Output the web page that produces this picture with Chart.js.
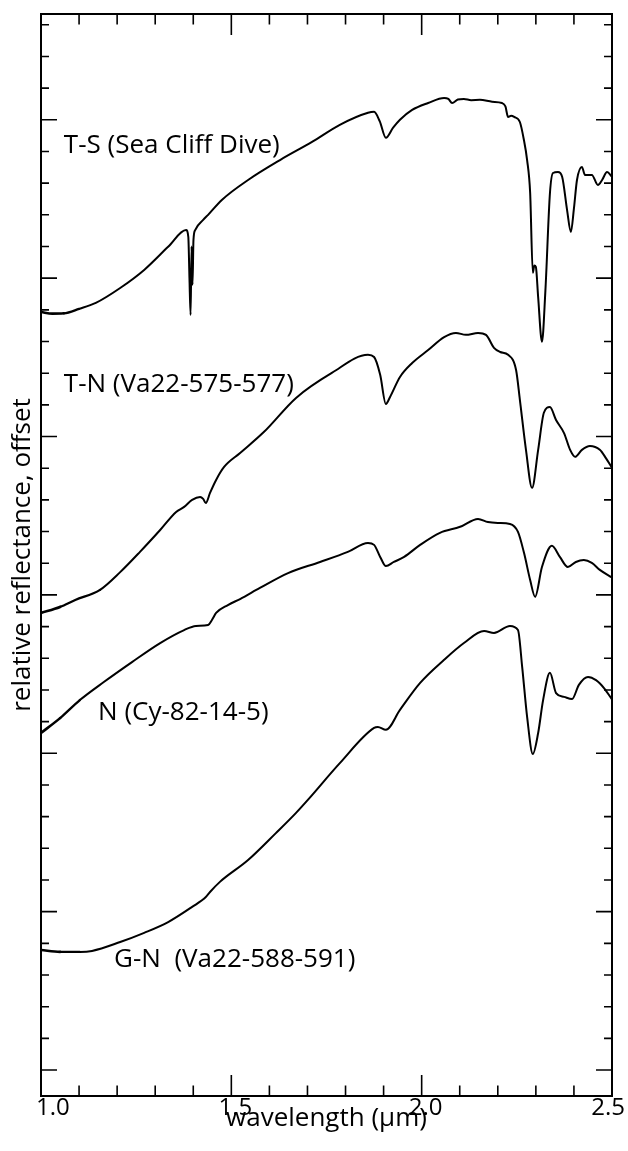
<!DOCTYPE html>
<html>
<head>
<meta charset="utf-8">
<script src="https://cdn.jsdelivr.net/npm/chart.js@4.4.1/dist/chart.umd.min.js"></script>
<style>
html, body { margin: 0; padding: 0; background: #fff; }
#wrap { width: 628px; height: 1151px; }
</style>
</head>
<body>
<div id="wrap"><canvas id="c" width="628" height="1151"></canvas></div>
<script>
// ---- data (wavelength in µm, relative reflectance with offset, in y-tick units) ----
const wlTS = [1.000, 1.030, 1.060, 1.100, 1.144, 1.208, 1.271, 1.334, 1.381, 1.387, 1.390, 1.393, 1.3955, 1.398, 1.4005, 1.405, 1.426, 1.439, 1.475, 1.544, 1.628, 1.712, 1.785, 1.859, 1.875, 1.890, 1.906, 1.925, 1.943, 1.975, 2.017, 2.059, 2.070, 2.080, 2.095, 2.111, 2.130, 2.153, 2.185, 2.211, 2.220, 2.227, 2.235, 2.243, 2.258, 2.268, 2.277, 2.285, 2.292, 2.296, 2.300, 2.306, 2.316, 2.325, 2.337, 2.345, 2.358, 2.369, 2.382, 2.392, 2.400, 2.408, 2.421, 2.429, 2.447, 2.463, 2.474, 2.487, 2.500];
const reflTS = [23.93, 23.88, 23.89, 24.03, 24.22, 24.69, 25.26, 25.99, 26.52, 26.30, 25.00, 23.84, 26.00, 24.79, 26.20, 26.52, 26.84, 27.00, 27.47, 28.10, 28.73, 29.30, 29.84, 30.22, 30.25, 29.95, 29.43, 29.75, 30.00, 30.31, 30.53, 30.69, 30.66, 30.53, 30.64, 30.66, 30.62, 30.63, 30.57, 30.53, 30.42, 30.09, 30.13, 30.09, 29.93, 29.40, 28.73, 27.69, 25.17, 25.40, 25.36, 24.40, 22.99, 24.60, 27.69, 28.32, 28.35, 28.20, 27.15, 26.46, 27.20, 28.10, 28.51, 28.26, 28.26, 27.94, 28.10, 28.35, 28.20];

const wlTN = [1.000, 1.050, 1.090, 1.155, 1.208, 1.260, 1.313, 1.355, 1.376, 1.397, 1.418, 1.426, 1.433, 1.444, 1.460, 1.481, 1.523, 1.586, 1.670, 1.764, 1.859, 1.875, 1.891, 1.906, 1.917, 1.943, 1.975, 2.017, 2.059, 2.090, 2.116, 2.148, 2.169, 2.190, 2.206, 2.227, 2.248, 2.258, 2.274, 2.290, 2.306, 2.321, 2.337, 2.353, 2.374, 2.390, 2.403, 2.421, 2.442, 2.468, 2.484, 2.500];
const reflTN = [14.43, 14.62, 14.84, 15.16, 15.72, 16.36, 17.05, 17.62, 17.78, 18.00, 18.09, 18.03, 17.90, 18.22, 18.63, 19.04, 19.48, 20.15, 21.22, 22.01, 22.58, 22.51, 21.95, 21.03, 21.25, 21.88, 22.32, 22.73, 23.14, 23.27, 23.21, 23.27, 23.21, 22.80, 22.67, 22.58, 22.10, 21.16, 19.58, 18.38, 19.58, 20.75, 20.93, 20.52, 20.11, 19.58, 19.36, 19.58, 19.70, 19.58, 19.32, 19.01];

const wlN = [1.000, 1.050, 1.102, 1.165, 1.239, 1.313, 1.376, 1.407, 1.439, 1.449, 1.460, 1.491, 1.523, 1.575, 1.649, 1.733, 1.806, 1.859, 1.875, 1.891, 1.906, 1.927, 1.954, 1.996, 2.048, 2.101, 2.148, 2.174, 2.201, 2.232, 2.253, 2.269, 2.285, 2.298, 2.316, 2.342, 2.363, 2.384, 2.405, 2.426, 2.447, 2.468, 2.500];
const reflN = [10.64, 11.11, 11.68, 12.25, 12.88, 13.48, 13.89, 14.02, 14.05, 14.21, 14.43, 14.68, 14.87, 15.22, 15.69, 16.04, 16.36, 16.64, 16.58, 16.20, 15.91, 16.04, 16.20, 16.58, 16.96, 17.15, 17.40, 17.30, 17.27, 17.24, 16.99, 16.32, 15.47, 14.94, 15.88, 16.55, 16.20, 15.88, 16.04, 16.10, 16.01, 15.79, 15.55];

const wlGN = [1.000, 1.050, 1.102, 1.134, 1.208, 1.271, 1.334, 1.397, 1.433, 1.444, 1.470, 1.544, 1.617, 1.670, 1.701, 1.785, 1.875, 1.885, 1.906, 1.943, 1.996, 2.059, 2.111, 2.164, 2.190, 2.232, 2.253, 2.264, 2.277, 2.292, 2.306, 2.319, 2.337, 2.353, 2.374, 2.395, 2.413, 2.437, 2.458, 2.479, 2.500];
const reflGN = [3.79, 3.73, 3.73, 3.76, 4.04, 4.33, 4.67, 5.15, 5.46, 5.62, 5.94, 6.63, 7.48, 8.12, 8.53, 9.69, 10.80, 10.83, 10.74, 11.37, 12.22, 12.95, 13.48, 13.86, 13.80, 14.02, 13.89, 12.73, 11.15, 9.98, 10.64, 11.68, 12.54, 11.90, 11.78, 11.71, 12.16, 12.41, 12.31, 12.06, 11.70];

const sampleNames = ['T-S (Sea Cliff Dive)', 'T-N (Va22-575-577)', 'N (Cy-82-14-5)', 'G-N  (Va22-588-591)'];
const xTickValues = [1.0, 1.5, 2.0, 2.5];
const xTickLabels = ['1.0', '1.5', '2.0', '2.5'];

// label anchors in data coordinates (wavelength, offset reflectance)
const labelAnchorX = [1.060, 1.060, 1.150, 1.192];
const labelAnchorY = [29.18, 21.63, 11.30, 3.50];

// ---- chart ----
const FONT = '"Open Sans", "Noto Sans", sans-serif';
const toPts = (xs, ys) => xs.map((w, i) => ({ x: w, y: ys[i] }));
const series = [[wlTS, reflTS], [wlTN, reflTN], [wlN, reflN], [wlGN, reflGN]];

const framePlugin = {
  id: 'frameTicks',
  afterDraw(chart) {
    const { ctx, chartArea: a, scales: { x, y } } = chart;
    ctx.save();
    ctx.strokeStyle = '#000';
    ctx.lineWidth = 1.6;
    ctx.beginPath();
    x.ticks.forEach(t => {
      const v = Math.round(t.value * 10) / 10;
      if (v <= x.min + 1e-6 || v >= x.max - 1e-6) return;
      const px = x.getPixelForValue(v);
      const major = Math.abs(v * 2 - Math.round(v * 2)) < 1e-6;
      const len = major ? 21 : 10.5;
      ctx.moveTo(px, a.bottom); ctx.lineTo(px, a.bottom - len);
      ctx.moveTo(px, a.top); ctx.lineTo(px, a.top + len);
    });
    y.ticks.forEach(t => {
      const v = t.value;
      if (Math.abs(v - Math.round(v)) > 1e-6) return;
      const py = y.getPixelForValue(v);
      const major = Math.round(v) % 5 === 0;
      const len = major ? 16 : 8;
      ctx.moveTo(a.left, py); ctx.lineTo(a.left + len, py);
      ctx.moveTo(a.right, py); ctx.lineTo(a.right - len, py);
    });
    ctx.stroke();
    ctx.lineWidth = 2;
    ctx.strokeRect(a.left, a.top, a.right - a.left, a.bottom - a.top);

    // x tick labels
    ctx.fillStyle = '#000';
    ctx.font = '24px ' + FONT;
    ctx.textBaseline = 'alphabetic';
    xTickValues.forEach((v, i) => {
      const px = x.getPixelForValue(v);
      let tx = px + 4;
      ctx.textAlign = 'center';
      if (i === 0) { ctx.textAlign = 'left'; tx = px - 5; }
      if (i === xTickValues.length - 1) { ctx.textAlign = 'right'; tx = px + 13; }
      ctx.fillText(xTickLabels[i], tx, a.bottom + 19);
    });

    // sample labels
    ctx.font = '26px ' + FONT;
    ctx.textAlign = 'left';
    ctx.textBaseline = 'middle';
    sampleNames.forEach((name, i) => {
      ctx.fillText(name, x.getPixelForValue(labelAnchorX[i]), y.getPixelForValue(labelAnchorY[i]));
    });
    ctx.restore();
  }
};

new Chart(document.getElementById('c'), {
  type: 'line',
  data: {
    datasets: series.map((s, i) => ({
      label: sampleNames[i],
      data: toPts(s[0], s[1]),
      borderColor: '#000',
      borderWidth: 2,
      borderJoinStyle: 'round',
      borderCapStyle: 'round',
      pointRadius: 0,
      fill: false,
      cubicInterpolationMode: 'monotone',
      segment: { borderWidth: c => (c.p0.parsed.x < 1.04 ? 2.6 : (c.p0.parsed.x < 1.1 ? 2.3 : 2)) }
    }))
  },
  options: {
    responsive: false,
    animation: false,
    layout: { padding: { top: 14, right: 16, left: 0, bottom: 0 } },
    plugins: { legend: { display: false }, tooltip: { enabled: false } },
    scales: {
      x: {
        type: 'linear', min: 1.0, max: 2.5,
        ticks: { display: false, stepSize: 0.1 },
        grid: { display: false, drawTicks: false },
        border: { display: false },
        title: { display: true, text: 'wavelength (µm)', color: '#000', font: { family: FONT, size: 26 }, padding: { top: 0, bottom: 17 } },
        afterFit: s => { s.height = 55; }
      },
      y: {
        type: 'linear', min: -0.82, max: 33.34,
        ticks: { display: false, stepSize: 1, includeBounds: false },
        grid: { display: false, drawTicks: false },
        border: { display: false },
        title: { display: true, text: 'relative reflectance, offset', color: '#000', font: { family: FONT, size: 26 }, padding: { top: 7, bottom: 0 } },
        afterFit: s => { s.width = 41; }
      }
    }
  },
  plugins: [framePlugin]
});
</script>
</body>
</html>
